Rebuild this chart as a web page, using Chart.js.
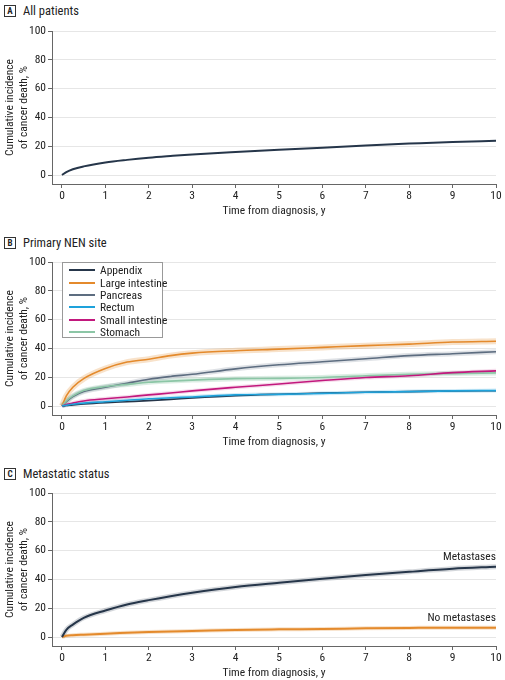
<!DOCTYPE html>
<html>
<head>
<meta charset="utf-8">
<script src="https://cdn.jsdelivr.net/npm/chart.js@4.4.1/dist/chart.umd.min.js"></script>
<style>
  html, body { margin: 0; padding: 0; background: #fff; }
  body { width: 505px; height: 680px; position: relative; overflow: hidden;
         font-family: "Liberation Sans Narrow", "Roboto Condensed", Roboto, sans-serif; color: #222; }
  canvas { position: absolute; left: 0; }
  .ptitle { position: absolute; left: 4px; font-size: 12.5px; line-height: 12px; display: flex; align-items: center; }
  .ptitle b { display: inline-block; width: 10px; height: 10px; border: 1px solid #333; font-size: 9px;
              line-height: 10px; text-align: center; margin-right: 7px; }
  #legendB { position: absolute; left: 62px; top: 262px; width: 101px; height: 76px; border: 1px solid #999;
             background: #fff; box-sizing: border-box; padding-top: 1px; }
  #legendB div { height: 12.4px; display: flex; align-items: center; font-size: 11.5px; white-space: nowrap; }
  #legendB span { display: inline-block; flex: none; width: 26px; height: 2px; margin: 0 5px 0 6px; }
</style>
</head>
<body>
<div class="ptitle" style="top:5px"><b>A</b>All patients</div>
<div class="ptitle" style="top:237px"><b>B</b>Primary NEN site</div>
<div class="ptitle" style="top:468px"><b>C</b>Metastatic status</div>
<canvas id="chartA" width="505" height="198" style="top:20px"></canvas>
<canvas id="chartB" width="505" height="198" style="top:251px"></canvas>
<canvas id="chartC" width="505" height="198" style="top:482px"></canvas>
<div id="legendB"></div>
<script>
// Cumulative incidence of cancer death (%)
const years = [0, 0.1, 0.25, 0.5, 1, 1.5, 2, 2.5, 3, 4, 5, 6, 7, 8, 9, 10];
const xTicks = [0, 1, 2, 3, 4, 5, 6, 7, 8, 9, 10];
const yTicks = [0, 20, 40, 60, 80, 100];

const allPatients = [0, 2, 4, 6, 8.7, 10.5, 12, 13.2, 14.3, 16, 17.5, 19, 20.5, 21.8, 23, 23.7];

const siteNames = ['Appendix', 'Large intestine', 'Pancreas', 'Rectum', 'Small intestine', 'Stomach'];
const appendix = [0, 0.3, 0.8, 1.4, 2.3, 3, 3.7, 4.6, 5.6, 7.2, 8.2, 9, 9.6, 10, 10.4, 10.6];
const largeIntestine = [0, 7, 13, 19, 26, 30.5, 32.5, 35, 36.7, 38.4, 39.5, 40.7, 41.9, 43, 44.4, 45];
const pancreas = [0, 3, 6.5, 10, 13, 15.8, 18.6, 20.5, 22, 25.8, 28.6, 30.7, 32.8, 35, 36.3, 37.7];
const rectum = [0, 0.5, 1.2, 2, 3, 4, 5, 5.7, 6.3, 7.7, 8.1, 8.8, 9.5, 10, 10.5, 10.7];
const smallIntestine = [0, 1, 2, 3.5, 5, 6.3, 7.7, 9, 10.5, 13, 15.3, 17.7, 19.8, 21, 23.2, 24.4];
const stomach = [0, 3.5, 7, 10.7, 13.5, 15, 16.5, 17.3, 18, 19, 19.2, 19.8, 21, 22, 22.5, 23];

const metastases = [0, 5, 8.6, 13.3, 18.4, 22.6, 25.6, 28.3, 30.7, 34.7, 37.7, 40.5, 43, 45.3, 47.4, 48.8];
const noMetastases = [0, 0.8, 1.2, 1.6, 2.3, 2.9, 3.5, 3.9, 4.2, 4.9, 5.3, 5.6, 6, 6.3, 6.5, 6.5];

const NAVY = '#26364a', ORANGE = '#e48a2c', GRAY = '#5d6d80', BLUE = '#1ea2db',
      MAGENTA = '#c2187d', GREEN = '#8cc6a6';
const FONT = { family: '"Liberation Sans Narrow", "Roboto Condensed", Roboto, sans-serif', size: 11.5 };

function pts(vals) { return vals.map((v, i) => ({ x: years[i], y: v })); }

function line(vals, color, width, order) {
  return { data: pts(vals), borderColor: color, borderWidth: width, pointRadius: 0,
           cubicInterpolationMode: 'monotone', fill: false, order: order };
}

// soft band under a line (confidence interval look)
function band(vals, color, width) {
  return line(vals, color, width, 10);
}

const endLabels = {
  id: 'endLabels',
  afterDatasetsDraw(chart, args, opts) {
    if (!opts.items) return;
    const { ctx, scales } = chart;
    ctx.save();
    ctx.font = '11.5px ' + FONT.family;
    ctx.fillStyle = '#222';
    ctx.textAlign = 'right';
    ctx.textBaseline = 'middle';
    opts.items.forEach(it => {
      const v = it.values[it.values.length - 1];
      ctx.fillText(it.text, scales.x.getPixelForValue(10), scales.y.getPixelForValue(v) - 10);
    });
    ctx.restore();
  }
};

function makeChart(id, datasets, labels) {
  const canvas = document.getElementById(id);
  return new Chart(canvas.getContext('2d'), {
    type: 'line',
    data: { datasets },
    plugins: [endLabels],
    options: {
      responsive: false,
      animation: false,
      layout: { padding: { top: 11, right: 9, left: 0, bottom: 0 } },
      plugins: { legend: { display: false }, tooltip: { enabled: false }, endLabels: { items: labels } },
      scales: {
        x: {
          type: 'linear', min: -0.23, max: 10,
          afterBuildTicks: s => { s.ticks = xTicks.map(v => ({ value: v })); },
          afterFit: s => { s.height = 34; },
          grid: { drawOnChartArea: false, tickColor: '#666', tickLength: 4 },
          border: { color: '#666' },
          ticks: { color: '#222', font: FONT, padding: 1, maxRotation: 0 },
          title: { display: true, text: 'Time from diagnosis, y', color: '#222', font: FONT, padding: { top: 1, bottom: 0 } }
        },
        y: {
          min: -6.25, max: 100,
          afterBuildTicks: s => { s.ticks = yTicks.map(v => ({ value: v })); },
          afterFit: s => { s.width = 52; },
          grid: { color: '#e6e6e6', tickColor: '#666', tickLength: 4 },
          border: { color: '#666' },
          ticks: { color: '#222', font: FONT, padding: 2 },
          title: { display: true, text: ['Cumulative incidence', 'of cancer death, %'], color: '#222',
                   font: FONT, padding: { top: 3, bottom: 0 } }
        }
      }
    }
  });
}

makeChart('chartA', [line(allPatients, NAVY, 2, 1)]);

makeChart('chartB', [
  band(largeIntestine, 'rgba(228,138,44,0.25)', 6),
  band(pancreas, 'rgba(93,109,128,0.2)', 5),
  band(stomach, 'rgba(140,198,166,0.3)', 5),
  band(smallIntestine, 'rgba(194,24,125,0.15)', 4),
  band(rectum, 'rgba(30,162,219,0.2)', 4),
  line(appendix, NAVY, 1.6, 6),
  line(largeIntestine, ORANGE, 1.6, 5),
  line(pancreas, GRAY, 1.6, 4),
  line(stomach, GREEN, 1.6, 3),
  line(smallIntestine, MAGENTA, 1.6, 2),
  line(rectum, BLUE, 1.6, 1)
]);

makeChart('chartC', [
  band(metastases, 'rgba(38,54,74,0.2)', 5),
  band(noMetastases, 'rgba(228,138,44,0.25)', 4),
  line(metastases, NAVY, 2, 1),
  line(noMetastases, ORANGE, 2, 2)
], [
  { text: 'Metastases', values: metastases },
  { text: 'No metastases', values: noMetastases }
]);

// legend box for panel B
const siteColors = [NAVY, ORANGE, GRAY, BLUE, MAGENTA, GREEN];
const legend = document.getElementById('legendB');
siteNames.forEach((name, i) => {
  const row = document.createElement('div');
  const sw = document.createElement('span');
  sw.style.background = siteColors[i];
  row.appendChild(sw);
  row.appendChild(document.createTextNode(name));
  legend.appendChild(row);
});
</script>
</body>
</html>
